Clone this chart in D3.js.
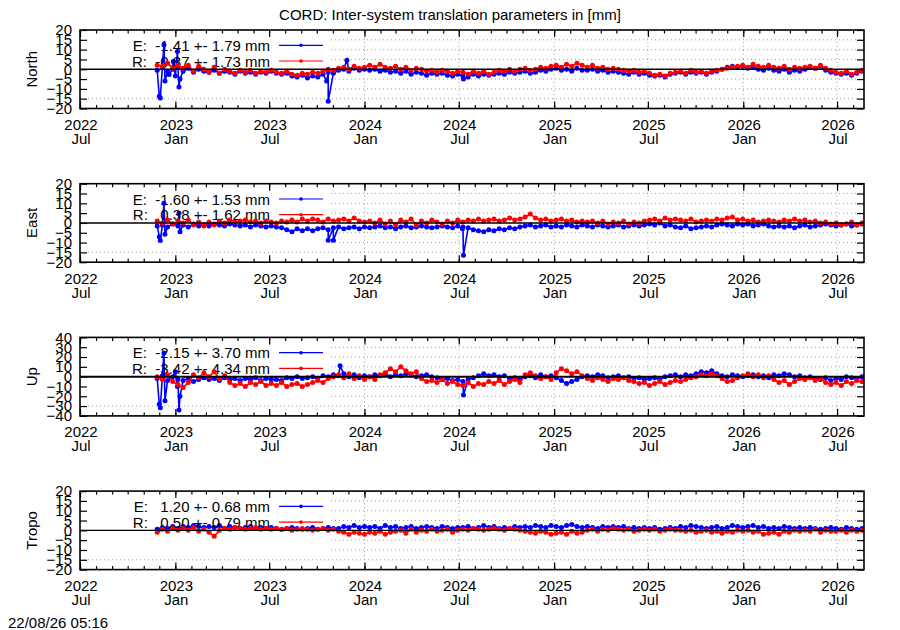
<!DOCTYPE html>
<html>
<head>
<meta charset="utf-8">
<script src="https://cdn.jsdelivr.net/npm/d3@7"></script>
<style>
  body { margin: 0; background: #fff; }
  svg text { font-family: "Liberation Sans", Arial, sans-serif; font-size: 15px; fill: #000; }
</style>
</head>
<body>
<div id="app"></div>
<script>
// CONSTANTS
const PLOT_LEFT = 80;
const PLOT_RIGHT = 864;
const PANEL_TOP = 30;
const PANEL_STEP = 153.7;
const PANEL_H = 78.5;
const GRID_LEFT = 331;
const COLOUR_E = '#0000ff';
const COLOUR_R = '#ff0000';
const POINT_R = 2.5;

const parseDate = d3.timeParse('%Y-%m-%d');

// DATA
const TITLE = 'CORD: Inter-system translation parameters in [mm]';
const STAMP = '22/08/26 05:16';
const X_START = '2022-07-01';
const X_END = '2026-08-22';
const SERIES_START = '2022-11-27';
const SERIES_STEP_DAYS = 10;

const xTickDates = ['2022-07-01', '2023-01-01', '2023-07-01', '2024-01-01', '2024-07-01',
  '2025-01-01', '2025-07-01', '2026-01-01', '2026-07-01'];

const panelNames = ['North', 'East', 'Up', 'Tropo'];
const yTicksSmall = [-20, -15, -10, -5, 0, 5, 10, 15, 20];
const yTicksUp = [-40, -30, -20, -10, 0, 10, 20, 30, 40];

const legendE = ['E:  -1.41 +- 1.79 mm', 'E:  -1.60 +- 1.53 mm', 'E:  -2.15 +- 3.70 mm', 'E:   1.20 +- 0.68 mm'];
const legendR = ['R:  -0.87 +- 1.73 mm', 'R:   0.38 +- 1.62 mm', 'R:  -3.42 +- 4.34 mm', 'R:   0.50 +- 0.79 mm'];

// one value every 10 days from SERIES_START
const northE = [
  -0.5, 1, -1, 0, 1,
  -1, 0.5, -1.5, 0, -1,
  -1.5, -0.5, -2, -1, -1.5, -2.5, -1,
  -2, -1.5, -2.5, -1.5, -2, -1,
  -2, -2.5, -2, -3.5, -4, -3,
  -4.5, -3.5, -4, -2.5, -1.5, -2,
  -0.5, 0, -1, 0.5, -0.5, 0,
  -0.5, 0, -1, -0.5, -1.5, -1,
  -2, -1, -2.5, -1.5, -2, -3,
  -2, -2.5, -2, -3, -3.5, -2.5,
  -3.5, -4, -2.5, -3.5, -2.5, -3,
  -2.5, -2, -2.5, -1.5, -2, -1.5,
  -1, -2, -1.5, -0.5, -1, 0,
  0.5, -0.5, 0, -1, 0.5, -0.5,
  -0.5, 0, -1, -0.5, -1.5, -1,
  -1.5, -2, -2.5, -1.5, -2.5, -2,
  -3, -3.5, -3, -4, -2.5, -2,
  -1.5, -2.5, -1.5, -2, -1.5, -2.5,
  -1.5, -1, 0, 1, 1.5, 1,
  1.5, 0.5, 1, 0, -0.5, 0.5,
  -0.5, -1, 0, -1.5, -0.5, -1,
  0, 1, 0.5, 1.5, -0.5, -1.5,
  -2, -2.5, -2, -3, -2, -1
];
const northR = [
  2, 1.5, 3, 0.5, 2,
  0.5, 2, -1, 1.5, 0,
  -1.5, 1, -2, 0, -1, -2, -0.5,
  -1.5, -0.5, -2, -1, -1.5, -0.5,
  -1.5, -2, -1, -2.5, -3, -2,
  -2.5, -1.5, -2, -1, 0, -0.5,
  0.5, 1, 0, 1.5, 0.5, 1,
  2, 1, 2.5, 1, 0.5, 1.5,
  0, 1, -0.5, 0.5, 0, -1,
  -0.5, -1.5, -0.5, -1, -2, -1,
  -1.5, -2.5, -1, -2, -1, -2.5,
  -1.5, -0.5, -1, 0, -1, 0,
  0.5, -0.5, 0, 1, 0.5, 1.5,
  2, 1, 2.5, 1.5, 3, 2,
  1, 2, 0.5, 1, 0, 0.5,
  0, -0.5, -1, -0.5, -1.5, -1,
  -2, -3, -2.5, -3.5, -2, -1.5,
  -1, -2, -0.5, -1.5, -1, -2,
  -1, -0.5, 0, 0.5, 1, 1.5,
  2, 1, 2.5, 1.5, 1, 2,
  1, 0.5, 1.5, 0, 1, 0.5,
  1, 1.5, 0.5, 2, 0.5, -0.5,
  -1.5, -2, -1, -2.5, -1.5, -0.5
];
const eastE = [
  -1.5, -1, -2, -0.5, -1.5,
  -1, -2, -0.5, -1.5, -1,
  -1.5, -0.5, -1, -1.5, -0.5, -1, -1.5,
  -1, -2, -1, -1.5, -2, -1.5,
  -2, -2.5, -3.5, -4.5, -3, -4,
  -3, -4, -3, -2.5, -3.5, -2.5,
  -2, -3, -2.5, -2, -3, -2,
  -2.5, -2, -1.5, -2.5, -2, -3,
  -2, -1.5, -2.5, -2, -1.5, -2,
  -2.5, -2, -1.5, -2, -2.5, -1.5,
  -2, -2.5, -3.5, -4, -4.5, -3.5,
  -4, -3, -3.5, -2.5, -3, -2,
  -1.5, -1, -2, -1.5, -1, -2,
  -1.5, -2, -1, -1.5, -2, -1,
  -1.5, -2, -1, -1.5, -2, -1.5,
  -1, -2, -1.5, -1, -1.5, -1,
  -0.5, -1, 0, -1.5, -1, -2,
  -2.5, -1.5, -3, -2.5, -2, -1.5,
  -2, -1, -0.5, -1, -1.5, -0.5,
  -1, -0.5, -1.5, -1, -0.5, -1.5,
  -2, -1.5, -2, -1.5, -2.5, -1.5,
  -1, -2, -1.5, -1, -0.5, -1,
  -1.5, -1, -0.5, -1.5, -1, -0.5
];
const eastR = [
  1, 0, 1.5, -0.5, 1,
  0, 1.5, -1, 0.5, -1.5,
  0.5, -1, 1, 0, 1.5, 0.5, 1,
  1.5, 0.5, 1, 0, 1, 0.5,
  0, 1, 0.5, 1.5, 0.5, 2,
  1, 2, 1.5, 0.5, 2, 1,
  1.5, 2, 1, 2.5, 1, 0.5,
  1, 0, 1.5, -0.5, 1, -1,
  1.5, 0.5, 2, -1, 1, 0,
  1.5, 0.5, -0.5, 1, 0, 1.5,
  0.5, 1.5, 1, 2, 1, 1.5,
  2, 1, 1.5, 2.5, 1.5, 2,
  3, 4.5, 2.5, 1.5, 2, 1,
  1.5, 2, 1, 1.5, 0.5, 1,
  0.5, 1, 0, 1, -0.5, 0.5,
  0, 1, -0.5, 0.5, 0, 1,
  1.5, 2, 1, 2.5, 1.5, 2,
  1.5, 1, 2, 0.5, 1, 1.5,
  1, 2, 1.5, 2.5, 3, 1.5,
  2, 1, 1.5, 0.5, 1, 1.5,
  1, 0.5, 1.5, 1, 2, 1,
  1.5, 0.5, 1, 0, 0.5, -0.5,
  0, -1, -0.5, 0.5, -1, 0
];
const upE = [
  -2, 1, -4, 0, -3,
  -4, -2, -5, -3, -1,
  -3, -2, -4, -1, -3, -2, -4,
  -2, -3, -1, -4, -2, -3,
  -3, -4, -1, -2, 0, -2,
  -1, 0, -2, 1, 0, 2,
  1, 3, 0, 2, -1, 1,
  0, 2, 1, 3, 0, 2,
  1, 3, 2, 0, 1, 2,
  0, -1, -3, -2, -4, -3,
  -5, -3, -1, 1, 3, 1,
  2, 0, 1, -2, -1, -3,
  0, 1, -1, 2, 0, 1,
  -1, -4, -7, -5, -3, 0,
  1, 0, 2, 1, -1, 0,
  1, -1, 0, -2, -1, -3,
  -2, -1, -3, 0, 1, 2,
  0, 2, 1, 3, 5, 4,
  6, 3, 1, 0, 2, 1,
  0, 1, 2, 0, 1, -1,
  2, 1, 3, 2, 0, 1,
  -1, 0, -2, -3, -1, -4,
  -2, -3, 0, -1, -2, 0
];
const upR = [
  0, -3, 2, -5, -8,
  -11, -6, 2, -1, 4,
  0, 5, -2, 1, -6, -9, -7,
  -10, -6, -8, -5, -9, -7,
  -9, -6, -10, -8, -7, -10,
  -8, -6, -4, -6, -2, 0,
  2, -1, 3, -2, 1, -3,
  0, -3, 2, 4, 8, 5,
  10, 6, 3, 5, -2, -5,
  -4, -6, -3, -7, -5, -8,
  -9, -6, -10, -7, -8, -5,
  -7, -4, -8, -5, -3, -6,
  2, 4, 1, -2, 0, -3,
  4, 8, 6, 3, 5, 1,
  -2, -4, -1, -3, -5, -2,
  -3, -1, -4, -5, -7, -6,
  -9, -7, -5, -8, -6, -4,
  -5, -3, -1, 0, 2, 1,
  3, 1, -2, -5, -4, -1,
  1, 3, 0, 2, -1, 1,
  -3, -6, -4, -8, -5, -2,
  -3, -1, -4, -2, -6, -8,
  -6, -9, -5, -7, -4, -5
];
const tropoE = [
  0.5, 1.5, 1, 2, 1,
  2, 1.5, 2.5, 2, 1.5,
  2, 1.5, 2.5, 1, 2, 1.5, 1,
  1.5, 2, 1, 1.5, 1, 1.5,
  1, 0.5, 1, 1.5, 1, 0.5,
  1, 1.5, 0.5, 1, 1.5, 1,
  1, 2, 1.5, 2.5, 1.5, 2,
  1.5, 2, 1, 2.5, 1.5, 2,
  1, 1.5, 2, 1, 1.5, 2,
  1.5, 1, 2, 1.5, 1, 1.5,
  1.5, 2, 1, 1.5, 2.5, 1.5,
  2, 1, 1.5, 1, 2, 1.5,
  2, 1.5, 2.5, 2, 1.5, 2.5,
  2, 1.5, 2.5, 3, 2, 1.5,
  2, 1.5, 1, 2, 1.5, 2,
  1.5, 2, 1, 1.5, 1, 1.5,
  1, 1.5, 0.5, 1, 1.5, 1,
  2, 1.5, 2.5, 2, 1.5, 1,
  1.5, 2, 1, 1.5, 2.5, 2,
  1.5, 2, 2.5, 1.5, 2, 1,
  1.5, 1, 2, 1.5, 1, 1.5,
  1, 1.5, 1, 0.5, 1, 1.5,
  1, 0.5, 1.5, 1, 0.5, 1
];
const tropoR = [
  -1, 0.5, -0.5, 1, 0,
  1, 0, 1.5, -0.5, 0.5,
  -1, -3, 0, 1, 0.5, 1.5, 1,
  0.5, 1, 1.5, 0.5, 1, 0.5,
  1, 0.5, 1, 0, 0.5, 1,
  0.5, 0, 0.5, 1, 0, 0.5,
  -0.5, -1, -2, -1, -1.5, -2,
  -1, -1.5, -0.5, -2, -1, -0.5,
  0, -1.5, 0.5, -1, 0, -0.5,
  0.5, -0.5, 0, 0.5, -1, 0,
  0.5, 0, 1, 0.5, 0, 0.5,
  1, 0.5, 0, 1, 0.5, 0,
  -0.5, -1, -1.5, -0.5, -1, -2,
  -1.5, -1, -2, -0.5, -1.5, -1,
  0, 0.5, -0.5, 0.5, 0, 1,
  0.5, 0, 0.5, -0.5, 0, 0.5,
  0, 0.5, -0.5, 0, 0.5, 0,
  0, -0.5, 0, -1, -0.5, 0,
  -1, -0.5, -1.5, -0.5, -1, 0,
  -0.5, 0, -1, -0.5, -2, -1.5,
  -1, -2, -0.5, -1, 0, -0.5,
  0, -0.5, 0.5, -1, 0, -0.5,
  -0.5, 0, -1, 0, -0.5, 0
];

// single outlier days in the E solution
const northESpikes = [
  ['2022-12-01', -13.7], ['2022-12-03', -14.6], ['2022-12-10', 12.5], ['2022-12-12', -6],
  ['2022-12-20', -2.7], ['2022-12-28', 4], ['2023-01-01', -3.5], ['2023-01-05', 9],
  ['2023-01-08', -9], ['2023-01-10', -5], ['2023-10-20', -6], ['2023-10-23', -16.3],
  ['2023-11-28', 4.6], ['2024-07-10', -5]
];
const eastESpikes = [
  ['2022-12-01', -7], ['2022-12-03', -9], ['2022-12-10', 10], ['2022-12-12', -5.7],
  ['2023-01-08', 5], ['2023-01-10', -4.5], ['2023-10-23', -8.8], ['2023-11-02', -8.8],
  ['2024-07-08', -3], ['2024-07-10', -16.5]
];
const upESpikes = [
  ['2022-12-01', -28], ['2022-12-03', -31.6], ['2022-12-10', 24], ['2022-12-12', -24.5],
  ['2023-01-01', 5], ['2023-01-05', -10], ['2023-01-08', -34], ['2023-01-10', -20],
  ['2023-11-15', 11], ['2024-07-10', -18.7]
];
const tropoESpikes = [];

// LIBRARY
function seriesPoints(values, spikes) {
  const start = parseDate(SERIES_START);
  const pts = values.map((v, i) => ({ date: d3.timeDay.offset(start, i * SERIES_STEP_DAYS), value: v }));
  spikes.forEach(([d, v]) => pts.push({ date: parseDate(d), value: v }));
  return pts.sort((a, b) => a.date - b.date);
}

const x = d3.scaleTime()
  .domain([parseDate(X_START), parseDate(X_END)])
  .range([PLOT_LEFT, PLOT_RIGHT]);

const majorDates = xTickDates.map(parseDate);
const minorDates = d3.timeMonth.range(parseDate(X_START), parseDate(X_END));

function drawSeries($g, pts, y, colour) {
  const line = d3.line().x(d => x(d.date)).y(d => y(d.value));
  $g.append('path')
    .attr('d', line(pts))
    .attr('fill', 'none')
    .attr('stroke', colour)
    .attr('stroke-width', 1.6);
  $g.selectAll(null)
    .data(pts)
    .enter()
      .append('circle')
      .attr('cx', d => x(d.date))
      .attr('cy', d => y(d.value))
      .attr('r', POINT_R)
      .attr('fill', colour);
}

function drawKey($g, top, label, colour, row) {
  const ly = top + 15.3 + row * 15.7;
  $g.append('text')
    .attr('x', 270)
    .attr('y', ly + 5.5)
    .attr('text-anchor', 'end')
    .attr('xml:space', 'preserve')
    .style('white-space', 'pre')
    .text(label);
  $g.append('line')
    .attr('x1', 279).attr('x2', 323)
    .attr('y1', ly).attr('y2', ly)
    .attr('stroke', colour).attr('stroke-width', 1.2);
  $g.append('circle')
    .attr('cx', 301).attr('cy', ly).attr('r', 1.8)
    .attr('fill', colour);
}

function renderPanel($svg, k, eVals, eSpikes, rVals, yTicks) {
  const top = PANEL_TOP + k * PANEL_STEP;
  const bottom = top + PANEL_H;
  const y = d3.scaleLinear()
    .domain([yTicks[0], yTicks[yTicks.length - 1]])
    .range([bottom, top]);
  const $g = $svg.append('g');

  // grid (hidden behind the key area on the left)
  const gridVals = yTicks.slice(1, -1).filter(v => v !== 0);
  $g.selectAll(null)
    .data(gridVals)
    .enter()
      .append('line')
      .attr('x1', (d, i) => i === 0 ? PLOT_LEFT : GRID_LEFT)
      .attr('x2', PLOT_RIGHT)
      .attr('y1', d => y(d)).attr('y2', d => y(d))
      .attr('stroke', '#a0a0a0').attr('stroke-width', 1)
      .attr('stroke-dasharray', '1,3');
  $g.selectAll(null)
    .data(majorDates.filter(d => x(d) > GRID_LEFT && x(d) < PLOT_RIGHT))
    .enter()
      .append('line')
      .attr('x1', d => x(d)).attr('x2', d => x(d))
      .attr('y1', top).attr('y2', bottom)
      .attr('stroke', '#a0a0a0').attr('stroke-width', 1)
      .attr('stroke-dasharray', '1,3');

  const clipId = 'clip' + k;
  $svg.append('clipPath').attr('id', clipId)
    .append('rect')
      .attr('x', PLOT_LEFT).attr('y', top)
      .attr('width', PLOT_RIGHT - PLOT_LEFT).attr('height', PANEL_H);

  drawKey($g, top, legendE[k], COLOUR_E, 0);
  const $data = $g.append('g').attr('clip-path', `url(#${clipId})`);
  drawSeries($data, seriesPoints(eVals, eSpikes), y, COLOUR_E);
  drawKey($g, top, legendR[k], COLOUR_R, 1);
  const $dataR = $g.append('g').attr('clip-path', `url(#${clipId})`);
  drawSeries($dataR, seriesPoints(rVals, []), y, COLOUR_R);

  // zero line
  $g.append('line')
    .attr('x1', PLOT_LEFT).attr('x2', PLOT_RIGHT)
    .attr('y1', y(0)).attr('y2', y(0))
    .attr('stroke', '#000').attr('stroke-width', k === 2 ? 2 : 1.4);

  // axes: ticks inward on all four sides
  const styleAxis = $a => {
    $a.select('.domain').remove();
    $a.selectAll('line').attr('stroke', '#000').attr('stroke-width', 1.2);
    $a.attr('font-size', 15).attr('font-family', '"Liberation Sans", Arial, sans-serif');
  };
  $g.append('g').attr('transform', `translate(0,${bottom})`)
    .call(d3.axisBottom(x).tickValues(minorDates).tickSize(-3.5).tickSizeOuter(0).tickFormat(''))
    .call(styleAxis);
  $g.append('g').attr('transform', `translate(0,${top})`)
    .call(d3.axisTop(x).tickValues(minorDates).tickSize(-3.5).tickSizeOuter(0).tickFormat(''))
    .call(styleAxis);
  $g.append('g').attr('transform', `translate(0,${bottom})`)
    .call(d3.axisBottom(x).tickValues(majorDates).tickSize(-7).tickSizeOuter(0).tickFormat(''))
    .call(styleAxis);
  $g.append('g').attr('transform', `translate(0,${top})`)
    .call(d3.axisTop(x).tickValues(majorDates).tickSize(-7).tickSizeOuter(0).tickFormat(''))
    .call(styleAxis);
  $g.append('g').attr('transform', `translate(${PLOT_LEFT},0)`)
    .call(d3.axisLeft(y).tickValues(yTicks).tickSize(-7).tickSizeOuter(0).tickPadding(8).tickFormat(d3.format('d')))
    .call(styleAxis);
  $g.append('g').attr('transform', `translate(${PLOT_RIGHT},0)`)
    .call(d3.axisRight(y).tickValues(yTicks).tickSize(-7).tickSizeOuter(0).tickFormat(''))
    .call(styleAxis);

  // two-line date labels
  const fmtYear = d3.timeFormat('%Y');
  const fmtMonth = d3.timeFormat('%b');
  $g.selectAll(null)
    .data(majorDates)
    .enter()
      .append('text')
      .attr('x', d => x(d) + 1)
      .attr('y', bottom + 21.5)
      .attr('text-anchor', 'middle')
      .text(d => fmtYear(d));
  $g.selectAll(null)
    .data(majorDates)
    .enter()
      .append('text')
      .attr('x', d => x(d) + 1)
      .attr('y', bottom + 35.5)
      .attr('text-anchor', 'middle')
      .text(d => fmtMonth(d));

  // frame
  $g.append('rect')
    .attr('x', PLOT_LEFT).attr('y', top)
    .attr('width', PLOT_RIGHT - PLOT_LEFT).attr('height', PANEL_H)
    .attr('fill', 'none').attr('stroke', '#000').attr('stroke-width', 1.6);

  // y title
  $g.append('text')
    .attr('transform', `translate(37,${(top + bottom) / 2}) rotate(-90)`)
    .attr('text-anchor', 'middle')
    .text(panelNames[k]);
}

// APP
const $svg = d3.select('#app')
  .append('svg')
  .attr('width', 900)
  .attr('height', 630);

$svg.append('text')
  .attr('x', 450).attr('y', 19.5)
  .attr('text-anchor', 'middle')
  .text(TITLE);

renderPanel($svg, 0, northE, northESpikes, northR, yTicksSmall);
renderPanel($svg, 1, eastE, eastESpikes, eastR, yTicksSmall);
renderPanel($svg, 2, upE, upESpikes, upR, yTicksUp);
renderPanel($svg, 3, tropoE, tropoESpikes, tropoR, yTicksSmall);

$svg.append('text')
  .attr('x', 8).attr('y', 627.5)
  .text(STAMP);
</script>
</body>
</html>
